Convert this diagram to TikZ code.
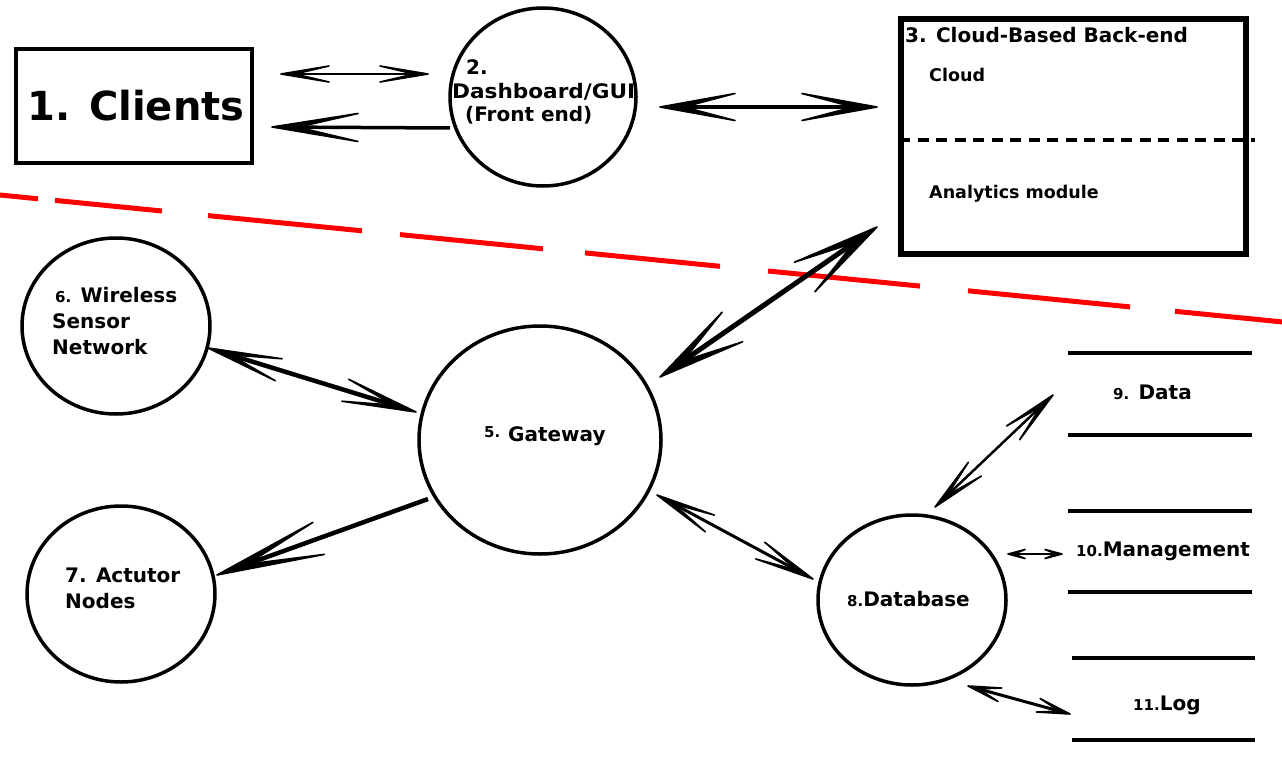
\documentclass[tikz,border=0pt]{standalone}
\usepackage{fontspec}
\setmainfont{DejaVu Sans}
\usetikzlibrary{calc,shapes.geometric}
\newcommand\smallnum[1]{{\fontsize{15}{15}\selectfont #1}}
% arrow head: #1 tip, #2 tail, #3 length, #4 half width, #5 solid part from tip
\newcommand\barbhead[5]{%
  \coordinate (bk) at ($(#1)!#3!(#2)$);
  \coordinate (ins) at ($(#1)!#5!(#2)$);
  \filldraw[line width=1.6pt, line join=round] (#1) -- ($(bk)!#4!90:(#1)$) -- (ins) -- ($(bk)!#4!-90:(#1)$) -- cycle;}
\begin{document}
\begin{tikzpicture}[x=1pt,y=-1pt,
  circ/.style={ellipse, draw, line width=3.5pt, inner sep=0pt, outer sep=0pt},
  txt/.style={anchor=base west, inner sep=0pt, font=\bfseries\fontsize{20}{24}\selectfont},
  subtxt/.style={anchor=base west, inner sep=0pt, font=\bfseries\fontsize{17.5}{20}\selectfont},
  boxline/.style={line width=3.5pt},
  conn/.style={line width=#1},
  redline/.style={draw=red, line width=5pt}
]
\useasboundingbox (0,0) rectangle (1282,773);

% red boundary
\draw[redline] (0,195)--(38,198.8) (55,200.4)--(162,211) (208,215.6)--(362,230.8)
  (400,234.6)--(543,248.8) (585,252.9)--(720,266.3) (768,271)--(920,286.1)
  (968,290.8)--(1130,306.9) (1175,311.3)--(1282,321.9);

% boxes
\node[draw, line width=4pt, minimum width=236pt, minimum height=114pt, inner sep=0pt] (cli) at (134,106) {};
\node[anchor=center, inner sep=0pt, font=\bfseries\fontsize{40}{40}\selectfont] (tcli) at (136,106) {1. Clients};
\node[draw, line width=6pt, minimum width=345pt, minimum height=235pt, inner sep=0pt] (cloud) at (1073.5,136.5) {};
\coordinate (dl1) at (899,140);
\coordinate (dl2) at (1255,140);
\draw[line width=4pt, dash pattern=on 11pt off 7.5pt] (dl1) -- (dl2);
\node[txt] (t3) at (905,43) {3. Cloud-Based Back-end};
\node[subtxt] (tcl) at (929,82) {Cloud};
\node[subtxt] (tan) at (929,198) {Analytics module};

% circles
\node[circ, minimum width=186pt, minimum height=178pt] (dash) at (543,97) {};
\node[circ, minimum width=242pt, minimum height=228pt] (gw) at (540,440) {};
\node[circ, minimum width=188pt, minimum height=176pt] (wsn) at (116,326) {};
\node[circ, minimum width=188pt, minimum height=176pt] (act) at (121,594) {};
\node[circ, minimum width=188pt, minimum height=170pt] (db) at (912,600) {};

\node[txt] (t2a) at (466,75) {2.};
\node[txt] (t2b) at (452,99) {\scalebox{1.08}[1]{Dashboard/GUI}};
\node[txt] (t2c) at (465,122) {(Front end)};
\node[txt] (t6a) at (55,302) {\smallnum{6.} Wireless};
\node[txt] (t6b) at (52,328) {Sensor};
\node[txt] (t6c) at (52,354) {Network};
\node[txt] (t5a) at (484,437) {\smallnum{5.}};
\node[txt] (t5b) at (508,441) {Gateway};
\node[txt] (t7a) at (65,582) {7. Actutor};
\node[txt] (t7b) at (65,608) {Nodes};
\node[txt] (t8) at (847,606) {\smallnum{8.}Database};

% stores
\coordinate (s1a) at (1068,353); \coordinate (s1b) at (1252,353);
\coordinate (s2a) at (1068,435); \coordinate (s2b) at (1252,435);
\coordinate (s3a) at (1068,511); \coordinate (s3b) at (1252,511);
\coordinate (s4a) at (1068,592); \coordinate (s4b) at (1252,592);
\coordinate (s5a) at (1072,658); \coordinate (s5b) at (1255,658);
\coordinate (s6a) at (1072,740); \coordinate (s6b) at (1255,740);
\draw[boxline] (s1a)--(s1b) (s2a)--(s2b) (s3a)--(s3b) (s4a)--(s4b) (s5a)--(s5b) (s6a)--(s6b);
\node[txt] (t9) at (1113,399) {\smallnum{9.} Data};
\node[txt] (t10) at (1076,556) {\smallnum{10.}Management};
\node[txt] (t11) at (1133,710) {\smallnum{11.}Log};

% connector end points
\coordinate (a1) at (281,74);   \coordinate (a2) at (428,74);
\coordinate (b1) at (450,128);  \coordinate (b2) at (272,127);
\coordinate (c1) at (660,107);  \coordinate (c2) at (877,107);
\coordinate (d1) at (660,377);  \coordinate (d2) at (877,227);
\coordinate (e1) at (208,348);  \coordinate (e2) at (416,412);
\coordinate (f1) at (428,499);  \coordinate (f2) at (217,575);
\coordinate (g1) at (657,495);  \coordinate (g2) at (813,579);
\coordinate (h1) at (935,507);  \coordinate (h2) at (1053,395);
\coordinate (i1) at (1008,554); \coordinate (i2) at (1062,554);
\coordinate (j1) at (968,686);  \coordinate (j2) at (1070,714);

\draw[conn=2.5pt, shorten <=6pt, shorten >=6pt] (a1) -- (a2);
\barbhead{a1}{a2}{48pt}{8pt}{14pt}
\barbhead{a2}{a1}{48pt}{8pt}{14pt}

\draw[conn=3.5pt, shorten >=10pt] (b1) -- (b2);
\barbhead{b2}{b1}{86pt}{14pt}{26pt}

\draw[conn=4.5pt, shorten <=9pt, shorten >=9pt] (c1) -- (c2);
\barbhead{c1}{c2}{75pt}{13.5pt}{24pt}
\barbhead{c2}{c1}{75pt}{13.5pt}{24pt}

\draw[conn=5pt, shorten <=11pt, shorten >=11pt] (d1) -- (d2);
\barbhead{d1}{d2}{88pt}{18pt}{28pt}
\barbhead{d2}{d1}{88pt}{18pt}{28pt}

\draw[conn=4.5pt, shorten <=9pt, shorten >=9pt] (e1) -- (e2);
\barbhead{e1}{e2}{74pt}{11.5pt}{23pt}
\barbhead{e2}{e1}{74pt}{11.5pt}{23pt}

\draw[conn=4.5pt, shorten >=12pt] (f1) -- (f2);
\barbhead{f2}{f1}{108pt}{17pt}{32pt}

\draw[conn=3pt, shorten <=7pt, shorten >=7pt] (g1) -- (g2);
\barbhead{g1}{g2}{60pt}{9.5pt}{19pt}
\barbhead{g2}{g1}{60pt}{9.5pt}{19pt}

\draw[conn=2.5pt, shorten <=7pt, shorten >=7pt] (h1) -- (h2);
\barbhead{h1}{h2}{55pt}{9.5pt}{17pt}
\barbhead{h2}{h1}{55pt}{9.5pt}{17pt}

\draw[conn=1.2pt, shorten <=2pt, shorten >=2pt] (i1) -- (i2);
\barbhead{i1}{i2}{17pt}{4.5pt}{6pt}
\barbhead{i2}{i1}{17pt}{4.5pt}{6pt}

\draw[conn=3pt, shorten <=4pt, shorten >=4pt] (j1) -- (j2);
\barbhead{j1}{j2}{33pt}{7pt}{11pt}
\barbhead{j2}{j1}{33pt}{7pt}{11pt}
\end{tikzpicture}
\end{document}
